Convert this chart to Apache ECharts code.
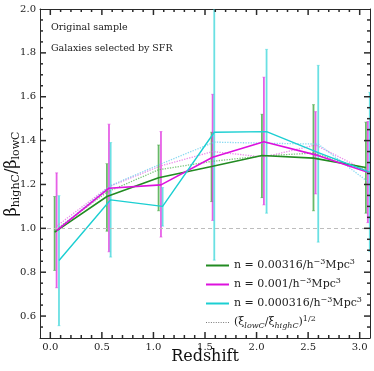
<!DOCTYPE html>
<html><head><meta charset="utf-8">
<script src="https://cdn.jsdelivr.net/npm/echarts@6/dist/echarts.min.js"></script>
<style>html,body{margin:0;padding:0;background:#fff}#c{width:374px;height:371px}</style>
</head><body><div id="c"></div>
<script>
// ---- data ----
const xTickLabels = [0.0, 0.5, 1.0, 1.5, 2.0, 2.5, 3.0];
const yTickLabels = [0.6, 0.8, 1.0, 1.2, 1.4, 1.6, 1.8, 2.0];
const xMinorTicks = [0.1, 0.2, 0.3, 0.4, 0.6, 0.7, 0.8, 0.9, 1.1, 1.2, 1.3, 1.4, 1.6, 1.7, 1.8, 1.9,
                     2.1, 2.2, 2.3, 2.4, 2.6, 2.7, 2.8, 2.9];
const yMinorTicks = [0.55, 0.65, 0.7, 0.75, 0.85, 0.9, 0.95, 1.05, 1.1, 1.15, 1.25, 1.3, 1.35,
                     1.45, 1.5, 1.55, 1.65, 1.7, 1.75, 1.85, 1.9, 1.95];

const greenX = [0.042, 0.549, 1.05, 1.564, 2.052, 2.552, 3.06];
const greenY = [0.983, 1.145, 1.231, 1.282, 1.332, 1.32, 1.277];
const greenLo = [0.808, 0.987, 1.08, 1.122, 1.14, 1.08, 1.069];
const greenHi = [1.145, 1.295, 1.38, 1.438, 1.52, 1.564, 1.484];
const greenXi = [0.99, 1.165, 1.267, 1.305, 1.33, 1.343, 1.27];

const magX = [0.061, 0.569, 1.073, 1.574, 2.071, 2.572, 3.079];
const magY = [0.99, 1.183, 1.198, 1.324, 1.395, 1.335, 1.256];
const magLo = [0.729, 0.893, 0.96, 1.036, 1.107, 1.157, 1.026];
const magHi = [1.253, 1.475, 1.441, 1.611, 1.689, 1.532, 1.487];
const magXi = [1.01, 1.19, 1.285, 1.35, 1.325, 1.38, 1.259];

const cyanX = [0.084, 0.585, 1.089, 1.59, 2.097, 2.598, 3.098];
const cyanY = [0.853, 1.13, 1.1, 1.438, 1.441, 1.345, 1.256];
const cyanLo = [0.556, 0.869, 1.01, 0.855, 1.069, 0.937, 0.894];
const cyanHi = [1.149, 1.391, 1.186, 2.05, 1.816, 1.743, 1.62];
const cyanXi = [1.0, 1.195, 1.297, 1.393, 1.388, 1.384, 1.206];

const refLine = 1.0;
// ---- end data ----

const SERIF = '"DejaVu Serif", "Liberation Serif", serif';
const GREEN = '#228b22', MAG = '#dd11dd', CYAN = '#1ccfd2';
const axColor = '#2a2a2a';
const X_MIN = -0.1, X_MAX = 3.1, Y_MIN = 0.5, Y_MAX = 2.0;

const chart = echarts.init(document.getElementById('c'), null, {renderer: 'canvas'});

function pts(xs, ys) { return xs.map((x, i) => [x, ys[i]]); }
function errData(xs, lo, hi) { return xs.map((x, i) => [x, lo[i], hi[i]]); }

function errSeries(xs, lo, hi, color) {
  return {
    type: 'custom', silent: true, clip: true, z: 2,
    data: errData(xs, lo, hi),
    renderItem: function (params, api) {
      const x = api.value(0);
      const p1 = api.coord([x, api.value(1)]);
      const p2 = api.coord([x, api.value(2)]);
      const st = {stroke: color, lineWidth: 1.8, opacity: 0.72};
      return {type: 'group', children: [
        {type: 'line', shape: {x1: p1[0], y1: p1[1], x2: p2[0], y2: p2[1]}, style: st},
        {type: 'line', shape: {x1: p1[0] - 1.5, y1: p1[1], x2: p1[0] + 1.5, y2: p1[1]}, style: {stroke: color, lineWidth: 1, opacity: 0.45}},
        {type: 'line', shape: {x1: p2[0] - 1.5, y1: p2[1], x2: p2[0] + 1.5, y2: p2[1]}, style: {stroke: color, lineWidth: 1, opacity: 0.45}}
      ]};
    }
  };
}
// inside axis ticks on all four sides, placed through the axis scales
function tickSeries(values, dir, len) {
  return {
    type: 'custom', silent: true, clip: true, z: 6,
    data: values.map(v => dir === 'x' ? [v, 1] : [1, v]),
    renderItem: function (params, api) {
      const st = {stroke: axColor, lineWidth: 1.5};
      let a, b;
      if (dir === 'x') {
        a = api.coord([api.value(0), Y_MIN]);
        b = api.coord([api.value(0), Y_MAX]);
        return {type: 'group', children: [
          {type: 'line', shape: {x1: a[0], y1: a[1], x2: a[0], y2: a[1] - len}, style: st},
          {type: 'line', shape: {x1: b[0], y1: b[1], x2: b[0], y2: b[1] + len}, style: st}
        ]};
      }
      a = api.coord([X_MIN, api.value(1)]);
      b = api.coord([X_MAX, api.value(1)]);
      return {type: 'group', children: [
        {type: 'line', shape: {x1: a[0], y1: a[1], x2: a[0] + len, y2: a[1]}, style: st},
        {type: 'line', shape: {x1: b[0], y1: b[1], x2: b[0] - len, y2: b[1]}, style: st}
      ]};
    }
  };
}
function lineSeries(name, xs, ys, color, w) {
  return {name: name, type: 'line', data: pts(xs, ys), symbol: 'none', z: 4,
    lineStyle: {color: color, width: w}, itemStyle: {color: color}};
}
function dotSeries(xs, ys, color) {
  return {type: 'line', data: pts(xs, ys), symbol: 'none', z: 3, silent: true,
    lineStyle: {color: color, width: 1.3, type: 'dotted', opacity: 0.8}};
}

function xAx(pos, labels) {
  return {type: 'value', position: pos, min: X_MIN, max: X_MAX, interval: 0.1,
    splitLine: {show: false},
    axisLine: {show: true, onZero: false, lineStyle: {color: axColor, width: 1}},
    axisTick: {show: false},
    axisLabel: {show: labels, customValues: xTickLabels, fontFamily: SERIF, fontSize: 10, color: '#222', margin: 4,
      formatter: v => v.toFixed(1)}};
}
function yAx(pos, labels) {
  return {type: 'value', position: pos, min: Y_MIN, max: Y_MAX, interval: 0.05,
    splitLine: {show: false},
    axisLine: {show: true, onZero: false, lineStyle: {color: axColor, width: 1}},
    axisTick: {show: false},
    axisLabel: {show: labels, customValues: yTickLabels, fontFamily: SERIF, fontSize: 10, color: '#222', margin: 4,
      formatter: v => v.toFixed(1)}};
}

const series = [
  errSeries(greenX, greenLo, greenHi, '#2e9e2e'),
  errSeries(magX, magLo, magHi, '#dd22dd'),
  errSeries(cyanX, cyanLo, cyanHi, '#30d4d8'),
  dotSeries(greenX, greenXi, '#5cb85c'),
  dotSeries(magX, magXi, '#e56ee5'),
  dotSeries(cyanX, cyanXi, '#6cd0ee'),
  lineSeries('g', greenX, greenY, GREEN, 1.6),
  lineSeries('m', magX, magY, MAG, 1.6),
  lineSeries('c', cyanX, cyanY, CYAN, 1.4),
  {name: 'x', type: 'line', data: [], symbol: 'none', lineStyle: {color: '#777', width: 1, type: 'dotted'}, itemStyle: {color: '#777'}},
  tickSeries(xTickLabels, 'x', 6),
  tickSeries(xMinorTicks, 'x', 3),
  tickSeries(yTickLabels, 'y', 6),
  tickSeries(yMinorTicks, 'y', 3)
];
series[6].markLine = {silent: true, symbol: 'none', label: {show: false},
  lineStyle: {color: '#bdbdbd', type: [4, 3], width: 1},
  data: [{yAxis: refLine}]};

const legendText = {
  g: 'n = 0.00316/h{sup|−3}Mpc{sup|3}',
  m: 'n = 0.001/h{sup|−3}Mpc{sup|3}',
  c: 'n = 0.000316/h{sup|−3}Mpc{sup|3}',
  x: '(ξ{sub|lowC}/ξ{sub|highC}){sup|1/2}'
};
const solidIcon = 'path://M0,0H23V2H0Z';
const dotIcon = 'path://M0,0h1v1h-1z M2.5,0h1v1h-1z M5,0h1v1h-1z M7.5,0h1v1h-1z M10,0h1v1h-1z M12.5,0h1v1h-1z M15,0h1v1h-1z M17.5,0h1v1h-1z M20,0h1v1h-1z M22.5,0h1v1h-1z';

chart.setOption({
  animation: false,
  backgroundColor: '#fff',
  grid: {left: 40, right: 4, top: 9, bottom: 33, containLabel: false, outerBoundsMode: 'none'},
  xAxis: [xAx('bottom', true), xAx('top', false)],
  yAxis: [yAx('left', true), yAx('right', false)],
  legend: {
    data: [{name: 'g', icon: solidIcon}, {name: 'm', icon: solidIcon}, {name: 'c', icon: solidIcon}, {name: 'x', icon: dotIcon}],
    orient: 'vertical', left: 206, top: 258, padding: 0,
    itemWidth: 23, itemHeight: 10, itemGap: 4, symbolKeepAspect: true,
    formatter: n => legendText[n],
    textStyle: {fontFamily: SERIF, fontSize: 11, color: '#222', lineHeight: 15, rich: {
      sup: {fontFamily: SERIF, fontSize: 8, color: '#222', verticalAlign: 'top', lineHeight: 15},
      sub: {fontFamily: SERIF, fontSize: 8, fontStyle: 'italic', color: '#222', verticalAlign: 'bottom', lineHeight: 15}
    }}
  },
  graphic: [
    {type: 'text', left: 51, top: 23, style: {text: 'Original sample', font: '9.5px ' + SERIF, fill: '#222'}},
    {type: 'text', left: 51, top: 44, style: {text: 'Galaxies selected by SFR', font: '9.5px ' + SERIF, fill: '#222'}},
    {type: 'text', x: 205, y: 357, style: {text: 'Redshift', font: '16px ' + SERIF, fill: '#111', align: 'center', verticalAlign: 'middle'}},
    {type: 'text', x: 12, y: 174, rotation: Math.PI / 2, style: {
      text: '{b|β}{s|highC}{b|/β}{s|lowC}', align: 'center', verticalAlign: 'middle',
      rich: {
        b: {fontFamily: SERIF, fontSize: 16, fill: '#111', verticalAlign: 'middle', lineHeight: 20},
        s: {fontFamily: SERIF, fontSize: 11, fill: '#111', verticalAlign: 'bottom', lineHeight: 20}
      }}}
  ],
  series: series
});
</script>
</body></html>
